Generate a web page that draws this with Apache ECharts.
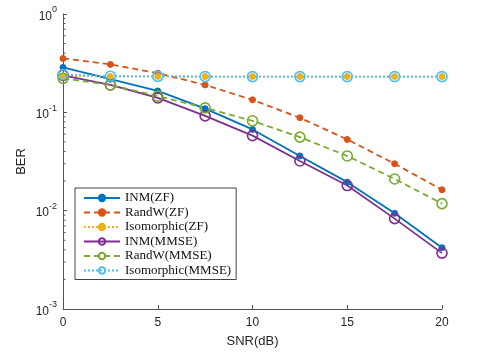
<!DOCTYPE html>
<html>
<head>
<meta charset="utf-8">
<style>
html, body { margin: 0; padding: 0; background: #fff; }
#chart { width: 489px; height: 353px; }
</style>
<script src="https://cdn.jsdelivr.net/npm/echarts@6/dist/echarts.min.js"></script>
</head>
<body>
<div id="chart"></div>
<script>
// SNR points
var snr = [0, 2.5, 5, 7.5, 10, 12.5, 15, 17.5, 20];

// BER per scheme
var inmZF = [0.286, 0.217, 0.165, 0.109, 0.067, 0.036, 0.0195, 0.0094, 0.0042];
var randwZF = [0.353, 0.307, 0.25, 0.19, 0.134, 0.088, 0.053, 0.030, 0.0163];
var isoZF = [0.235, 0.232, 0.232, 0.231, 0.231, 0.231, 0.231, 0.231, 0.231];
var inmMMSE = [0.238, 0.19, 0.14, 0.092, 0.058, 0.032, 0.018, 0.0083, 0.0037];
var randwMMSE = [0.222, 0.19, 0.146, 0.111, 0.082, 0.056, 0.036, 0.021, 0.0118];
var isoMMSE = [0.242, 0.233, 0.232, 0.231, 0.231, 0.231, 0.231, 0.231, 0.231];

var yExp = { 1: '0', 0.1: '-1', 0.01: '-2', 0.001: '-3' };

// minor log ticks 2..9 x 10^k
var minorVals = [];
[0.001, 0.01, 0.1].forEach(function (d) {
  for (var m = 2; m <= 9; m++) minorVals.push(d * m);
});

function pairs(ys) {
  return snr.map(function (x, i) { return [x, ys[i]]; });
}

var myChart = echarts.init(document.getElementById('chart'));

function mk(name, data, color, type, size, hollow) {
  return {
    name: name,
    type: 'line',
    data: pairs(data),
    symbol: 'circle',
    symbolSize: size,
    showAllSymbol: true,
    lineStyle: { color: color, width: 1.8, type: type },
    itemStyle: hollow
      ? { color: 'rgba(255,255,255,0)', borderColor: color, borderWidth: 1.6 }
      : { color: color, borderColor: color, borderWidth: 1 },
    z: 3
  };
}

var option = {
  animation: false,
  backgroundColor: '#fff',
  grid: { left: 63, right: 47, top: 14, bottom: 40 },
  xAxis: {
    type: 'value',
    min: 0,
    max: 20,
    interval: 5,
    name: 'SNR(dB)',
    nameLocation: 'middle',
    nameGap: 26,
    nameTextStyle: { fontFamily: 'Liberation Sans', fontSize: 13, color: '#262626' },
    axisLine: { lineStyle: { color: '#555', width: 1 } },
    axisTick: { inside: true, length: 4, lineStyle: { color: '#555' } },
    axisLabel: { fontFamily: 'Liberation Sans', fontSize: 12, color: '#262626', margin: 8 },
    splitLine: { show: false }
  },
  yAxis: {
    type: 'log',
    logBase: 10,
    min: 0.001,
    max: 1,
    name: 'BER',
    nameLocation: 'middle',
    nameGap: 35,
    nameMoveOverlap: false,
    nameTextStyle: { fontFamily: 'Liberation Sans', fontSize: 13, color: '#262626' },
    axisLine: { lineStyle: { color: '#555', width: 1 } },
    axisTick: { inside: true, length: 4, lineStyle: { color: '#555' } },
    axisLabel: {
      margin: 6,
      formatter: function (v) {
        var k = Object.keys(yExp).filter(function (t) { return Math.abs(t - v) < v * 1e-6; })[0];
        return '{b|10}{s|' + (k ? yExp[k] : '') + '}';
      },
      rich: {
        b: { fontFamily: 'Liberation Sans', fontSize: 12, color: '#262626', verticalAlign: 'bottom' },
        s: { fontFamily: 'Liberation Sans', fontSize: 9, color: '#262626', verticalAlign: 'top', padding: [0, 0, 8, 0] }
      }
    },
    splitLine: { show: false }
  },
  legend: {
    orient: 'vertical',
    left: 75,
    top: 188,
    itemWidth: 36,
    itemHeight: 8,
    itemGap: 0.5,
    padding: [3, 5, 2, 8],
    backgroundColor: '#fff',
    borderColor: '#444',
    borderWidth: 1,
    borderRadius: 0,
    textStyle: { fontFamily: 'Liberation Serif', fontSize: 13, color: '#111', lineHeight: 14 },
    data: ['INM(ZF)', 'RandW(ZF)', 'Isomorphic(ZF)', 'INM(MMSE)', 'RandW(MMSE)', 'Isomorphic(MMSE)']
  },
  series: [
    {
      name: 'minor',
      type: 'custom',
      silent: true,
      data: minorVals.map(function (v) { return [v]; }),
      encode: { y: 0 },
      renderItem: function (params, api) {
        var p = api.coord([0, api.value(0)]);
        return {
          type: 'line',
          shape: { x1: p[0], y1: p[1], x2: p[0] + 2.5, y2: p[1] },
          style: { stroke: '#555', lineWidth: 1 }
        };
      },
      z: 1
    },
    mk('INM(ZF)', inmZF, '#0072BD', 'solid', 6, false),
    mk('RandW(ZF)', randwZF, '#D95319', [6, 4], 6, false),
    mk('Isomorphic(ZF)', isoZF, '#EDB120', [2, 2], 6, false),
    mk('INM(MMSE)', inmMMSE, '#7E2F8E', 'solid', 10, true),
    mk('RandW(MMSE)', randwMMSE, '#77AC30', [6, 4], 10, true),
    mk('Isomorphic(MMSE)', isoMMSE, '#4DBEEE', [2, 2], 10, true)
  ]
};

myChart.setOption(option);
</script>
</body>
</html>
